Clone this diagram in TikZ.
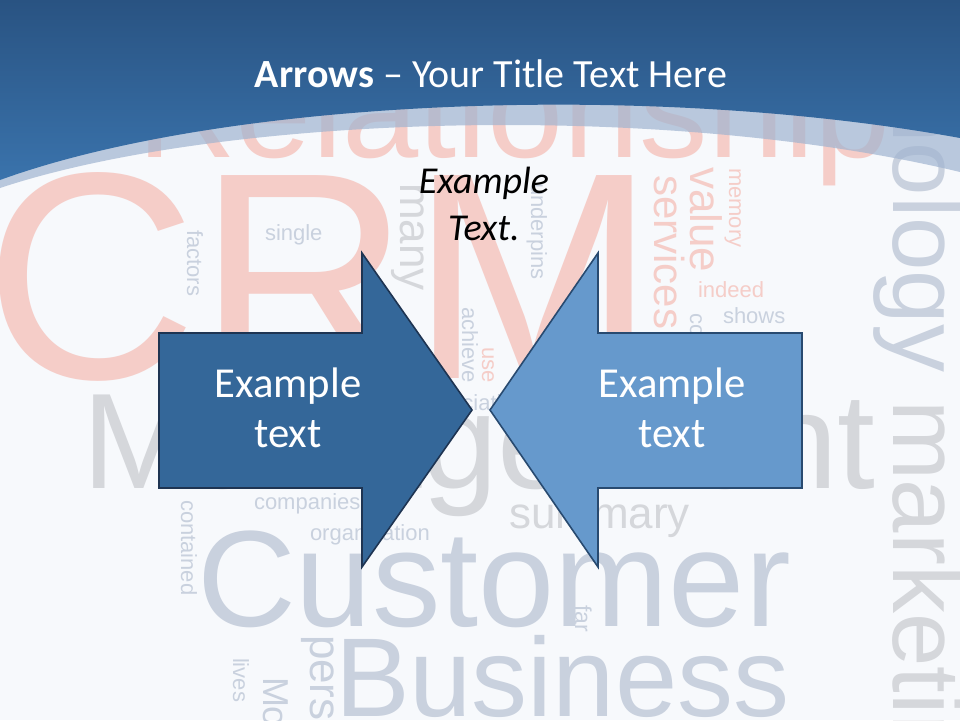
\documentclass[tikz,border=0pt]{standalone}
\usepackage{fontspec}
\setmainfont{Carlito}
\newfontfamily\cloudfont{Liberation Sans}
\definecolor{bgc}{RGB}{247,249,252}
\definecolor{cpink}{RGB}{245,205,200}
\definecolor{cgrey}{RGB}{213,215,219}
\definecolor{cblue}{RGB}{201,209,222}
\definecolor{hdtop}{RGB}{41,83,130}
\definecolor{hdbot}{RGB}{58,115,172}
\definecolor{bandc}{RGB}{160,180,208}
\definecolor{arrA}{RGB}{52,103,153}
\definecolor{arrAline}{RGB}{30,52,82}
\definecolor{arrB}{RGB}{102,153,204}
\definecolor{arrBline}{RGB}{40,74,112}
\tikzset{
  word/.style={anchor=base west, inner sep=0pt, outer sep=0pt},
  ws/.style={font=\cloudfont\fontsize{#1}{#1}\selectfont},
  down/.style={rotate=-90},
  arrowA/.style={fill=arrA, draw=arrAline, line width=1.6pt, line join=miter},
  arrowB/.style={fill=arrB, draw=arrBline, line width=1.6pt, line join=miter},
  lbl/.style={anchor=base, inner sep=0pt, text=white, font=\fontsize{42.7}{50}\selectfont},
  ital/.style={anchor=base, inner sep=0pt, text=black, font=\itshape\fontsize{38}{46}\selectfont},
  ttl/.style={anchor=base, inner sep=0pt, text=white, font=\fontsize{40}{48}\selectfont}
}
\begin{document}
\begin{tikzpicture}[x=1pt,y=-1pt]
\useasboundingbox (0,0) rectangle (960,720);
\fill[bgc] (0,0) rectangle (960,720);
\begin{scope}
\clip (0,0) rectangle (960,720);
% word cloud
\node[word, ws=295, text=cpink] (wcrm) at (-15,378) {CRM};
\node[word, ws=137, text=cpink] (wrel) at (137,157) {Relationship};
\node[word, ws=136, text=cgrey] (wman) at (82,488) {Management};
\node[word, ws=137, text=cblue] (wcus) at (197,626) {Customer};
\node[word, ws=112, text=cblue] (wbus) at (335,716) {Business};
\node[word, ws=22, text=cblue] (wsin) at (265,240) {single};
\node[word, ws=22, text=cpink] (wind) at (698,297) {indeed};
\node[word, ws=22, text=cblue] (wsho) at (723,323) {shows};
\node[word, ws=22, text=cblue] (wpow) at (735,346) {power};
\node[word, ws=22, text=cblue] (wcom) at (254,509) {companies};
\node[word, ws=22, text=cblue] (worg) at (310,540) {organization};
\node[word, ws=44, text=cgrey] (wsum) at (509,528) {summary};
\node[word, ws=22, text=cblue] (wass) at (416,410) {association};
% vertical words
\node[word, down, ws=22, text=cblue] (wfac) at (187,230) {factors};
\node[word, down, ws=44, text=cgrey] (wmany) at (400,183) {many};
\node[word, down, ws=22, text=cblue] (wund) at (531,183) {underpins};
\node[word, down, ws=22, text=cblue] (wach) at (462,307) {achieve};
\node[word, down, ws=22, text=cpink] (wuse) at (482,347) {use};
\node[word, down, ws=42, text=cpink] (wser) at (654,175) {services};
\node[word, down, ws=44, text=cpink] (wval) at (690,167) {value};
\node[word, down, ws=22, text=cpink] (wmem) at (729,168) {memory};
\node[word, down, ws=22, text=cblue] (wco) at (690,313) {co};
\node[word, down, ws=96, text=cblue] (wtec) at (893,-92) {technology};
\node[word, down, ws=96, text=cgrey] (wmar) at (893,400) {marketing};
\node[word, down, ws=22, text=cblue] (wcon) at (181,500) {contained};
\node[word, down, ws=23, text=cblue] (wfar) at (575,605) {far};
\node[word, down, ws=44, text=cblue] (wper) at (310,635) {pers};
\node[word, down, ws=36, text=cblue] (wmo) at (263,677) {Mo};
\node[word, down, ws=22, text=cblue] (wliv) at (233,658) {lives};
% header band
\fill[bandc, fill opacity=0.7] (0,0) -- (960,0) -- (960,172) .. controls (660,100) and (220,115) .. (0,188) -- cycle;
\shade[top color=hdtop, bottom color=hdbot] (0,0) -- (960,0) -- (960,138) .. controls (640,80) and (220,100) .. (0,180) -- cycle;
\end{scope}
% title
\node[ttl] (title) at (491,87) {\textbf{Arrows} – Your Title Text Here};
% italic caption
\node[ital] (cap1) at (484,193) {Example};
\node[ital] (cap2) at (484,240) {Text.};
% arrows
\draw[arrowA] (159,333) -- (362,333) -- (362,253) -- (472,410) -- (362,567) -- (362,488) -- (159,488) -- cycle;
\draw[arrowB] (802,333) -- (598,333) -- (598,253) -- (490,410) -- (598,567) -- (598,488) -- (802,488) -- cycle;
\node[lbl] (la1) at (288,397) {Example};
\node[lbl] (la2) at (288,447) {text};
\node[lbl] (lb1) at (672,397) {Example};
\node[lbl] (lb2) at (672,447) {text};
\end{tikzpicture}
\end{document}
